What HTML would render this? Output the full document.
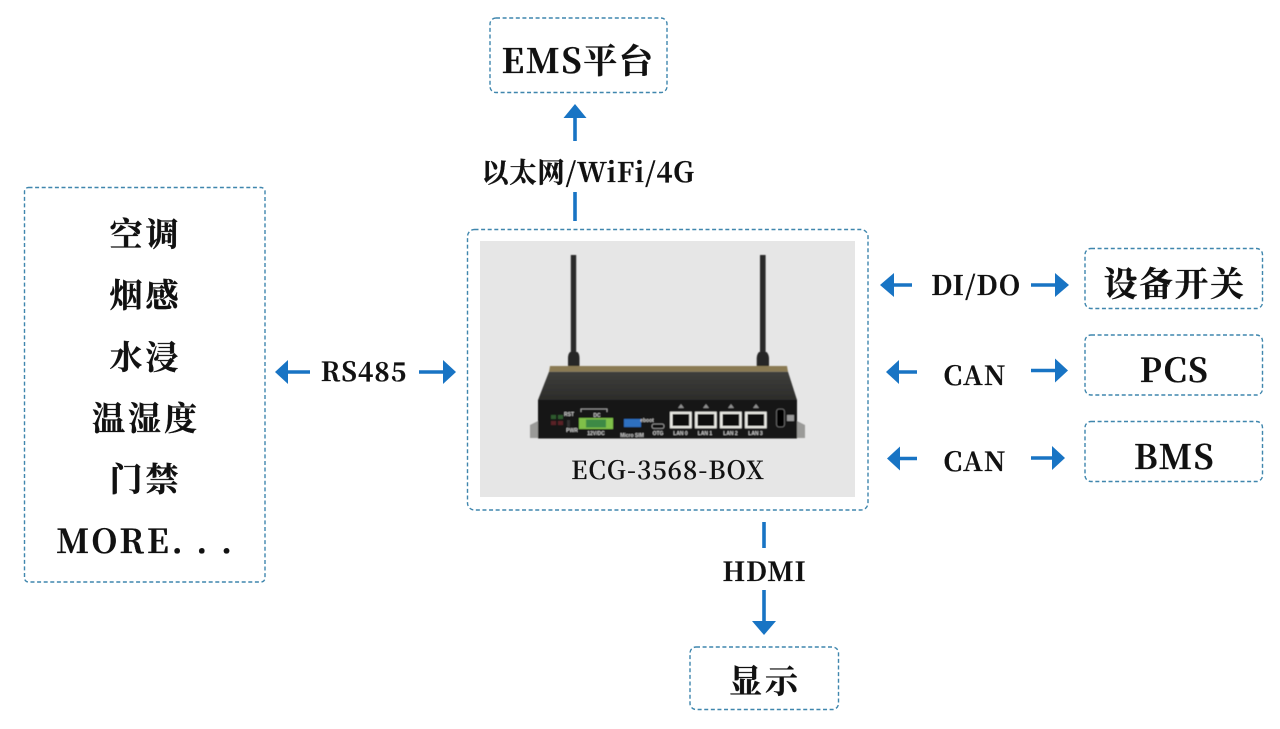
<!DOCTYPE html>
<html><head><meta charset="utf-8"><style>
html,body{margin:0;padding:0;background:#fff;width:1280px;height:729px;overflow:hidden}
svg{display:block}
text{font-family:"Noto Serif CJK SC","Liberation Serif",serif;font-weight:700;fill:#111;text-anchor:middle;stroke:#111;stroke-width:.35px}
.b{fill:#fff;stroke:#3f86ad;stroke-width:1.4;stroke-dasharray:4 2.6}
.l{stroke:#1874c4;stroke-width:3.6;fill:none}
.h{fill:#1874c4}
.m{font-size:33px;letter-spacing:3px}
.s{font-size:5px;fill:#ccc;stroke:none;font-family:"Liberation Sans",sans-serif}
</style></head><body>
<svg width="1280" height="729" viewBox="0 0 1280 729" xmlns="http://www.w3.org/2000/svg">
<defs>
<linearGradient id="top" x1="0" y1="0" x2="0" y2="1"><stop offset="0" stop-color="#3f3f3c"/><stop offset="1" stop-color="#2c2c2a"/></linearGradient>
<filter id="soft" x="-5%" y="-5%" width="110%" height="110%"><feGaussianBlur stdDeviation="0.45"/></filter>
</defs>
<rect width="1280" height="729" fill="#fff"/>
<rect class="b" x="24.500" y="187.500" width="240.500" height="394.500" rx="4"/>
<rect class="b" x="467.500" y="229.500" width="400.500" height="280.500" rx="7"/>
<rect class="b" x="490" y="18" width="177" height="74.500" rx="6"/>
<rect class="b" x="1085" y="248.500" width="177.500" height="60" rx="6"/>
<rect class="b" x="1085" y="335" width="177.500" height="60" rx="6"/>
<rect class="b" x="1085" y="421.500" width="177.500" height="60" rx="6"/>
<rect class="b" x="690" y="647" width="148.500" height="62.500" rx="6"/>
<rect x="480" y="241" width="375" height="256" fill="#e6e6e6"/>

<!-- device -->
<g filter="url(#soft)">
<rect x="570.800" y="255" width="5.400" height="100" fill="#2a2a2a"/>
<path d="M570 352q-2 2-2 6v8h11.500v-8q0-4-2-6z" fill="#262626"/>
<rect x="760" y="255" width="5.600" height="100" fill="#2a2a2a"/>
<path d="M759 352q-2 2-2.300 6v8h12.300v-8q-.3-4-2.500-6z" fill="#262626"/>
<path d="M530 425l8-4v17h-8z M805 425l-8-4v17h8z" fill="#9a9a98"/>
<path d="M550 366H787L788 371.700H549z" fill="#8a7a52"/>
<path d="M549 371.700H788L797 400H538z" fill="url(#top)"/>
<rect x="538" y="400" width="259" height="38.500" fill="#181818"/>
<!-- LEDs -->
<rect x="551" y="415" width="5" height="4" fill="#2d5a2d"/><rect x="558" y="415" width="5" height="4" fill="#2d5a2d"/>
<rect x="551" y="421" width="5" height="4" fill="#5a2226"/><rect x="558" y="421" width="5" height="4" fill="#5a2226"/>
<rect x="567" y="420" width="3" height="7" fill="#333"/>
<!-- terminal -->
<rect x="579" y="418" width="34" height="11" fill="#7fc04a"/>
<rect x="586" y="419.500" width="20" height="8" fill="#3d8a45"/>
<path d="M581 412v-3h26v3" fill="none" stroke="#bbb" stroke-width=".8"/>
<!-- usb / otg -->
<rect x="624" y="419" width="17" height="8" fill="#2f6fc0"/>
<rect x="652" y="424" width="12" height="4.500" rx="2" fill="#111" stroke="#aaa" stroke-width=".8"/>
<!-- LAN -->
<g fill="#e9e9e4">
<rect x="670" y="411.700" width="21.700" height="16.600"/><rect x="695" y="411.700" width="21.700" height="16.600"/>
<rect x="720" y="411.700" width="21.700" height="16.600"/><rect x="745" y="411.700" width="21.700" height="16.600"/>
</g>
<g fill="#0c0c0c">
<rect x="672.500" y="414" width="16.700" height="12"/><rect x="697.500" y="414" width="16.700" height="12"/>
<rect x="722.500" y="414" width="16.700" height="12"/><rect x="747.500" y="414" width="16.700" height="12"/>
</g>
<g fill="#8f8f8f">
<path d="M681 404l3 4h-6z"/><path d="M706 404l3 4h-6z"/><path d="M731 404l3 4h-6z"/><path d="M756 404l3 4h-6z"/>
</g>
<rect x="776.500" y="409" width="8" height="18" rx="2.500" fill="#050505" stroke="#777" stroke-width=".8"/>
<rect x="787" y="415" width="7" height="6" fill="#999"/>
<text class="s" x="680.500" y="435">LAN 0</text><text class="s" x="705" y="435">LAN 1</text>
<text class="s" x="730.500" y="435">LAN 2</text><text class="s" x="755.500" y="435">LAN 3</text>
<text class="s" x="596" y="435">12V/DC</text><text class="s" x="632" y="437">Micro SIM</text><text class="s" x="658" y="435">OTG</text>
<text class="s" x="569" y="416">RST</text><text class="s" x="572" y="432">PWR</text><text class="s" x="597" y="417">DC</text><text class="s" x="647" y="422">eboot</text>
</g>

<text x="668" y="479" style="font-size:25px;letter-spacing:1px;font-weight:600;stroke-width:.15px">ECG-3568-BOX</text>

<!-- top arrow -->
<path class="l" d="M575 141V112"/><path class="h" d="M575 104l11.500 14h-23z"/>
<path class="l" d="M575 192V221"/>
<text x="588" y="182" style="font-size:27.300px;letter-spacing:.7px">以太网/WiFi/4G</text>
<text x="578" y="73" style="font-size:34px;letter-spacing:1.600px">EMS平台</text>

<!-- RS485 -->
<path class="l" d="M287 372H310"/><path class="h" d="M275 372l13-12v24z"/>
<path class="l" d="M419 372H444"/><path class="h" d="M456 372l-13-12v24z"/>
<text x="364" y="381" style="font-size:26px;letter-spacing:1.100px">RS485</text>

<!-- Right -->
<path class="l" d="M892 285H912"/><path class="h" d="M880 285l14-12v24z"/>
<path class="l" d="M1031 285H1056"/><path class="h" d="M1069 285l-14-12v24z"/>
<text x="976" y="295" style="font-size:27px;letter-spacing:.8px">DI/DO</text>

<path class="l" d="M898 372H917"/><path class="h" d="M886 372l13-12v24z"/>
<path class="l" d="M1031 370.500H1056"/><path class="h" d="M1068 370.500l-13-12v24z"/>
<text x="975" y="385" style="font-size:26.500px;letter-spacing:1.100px">CAN</text>

<path class="l" d="M899 458.500H917"/><path class="h" d="M887 458.500l13-12v24z"/>
<path class="l" d="M1031 458H1053"/><path class="h" d="M1065 458l-13-12v24z"/>
<text x="975" y="471" style="font-size:26.500px;letter-spacing:1.100px">CAN</text>

<text x="1174.500" y="296" style="font-size:34px;letter-spacing:1.500px">设备开关</text>
<text x="1174.500" y="382" style="font-size:33px;letter-spacing:1.500px">PCS</text>
<text x="1174.500" y="469" style="font-size:33.500px;letter-spacing:1.500px">BMS</text>

<!-- Bottom -->
<path class="l" d="M764 522V548"/>
<path class="l" d="M764 590V622"/><path class="h" d="M764 635l-12-14h24z"/>
<text x="764.500" y="581" style="font-size:26.500px;letter-spacing:.8px">HDMI</text>
<text x="765" y="693" style="font-size:33px;letter-spacing:3px">显示</text>

<!-- left list -->
<text class="m" x="145.500" y="246">空调</text>
<text class="m" x="145.500" y="307">烟感</text>
<text class="m" x="145.500" y="369">水浸</text>
<text class="m" x="146" y="430">温湿度</text>
<text class="m" x="145.500" y="491">门禁</text>
<text x="145.500" y="553" style="font-size:33px;letter-spacing:2.700px">MORE. . .</text>
</svg>
</body></html>
